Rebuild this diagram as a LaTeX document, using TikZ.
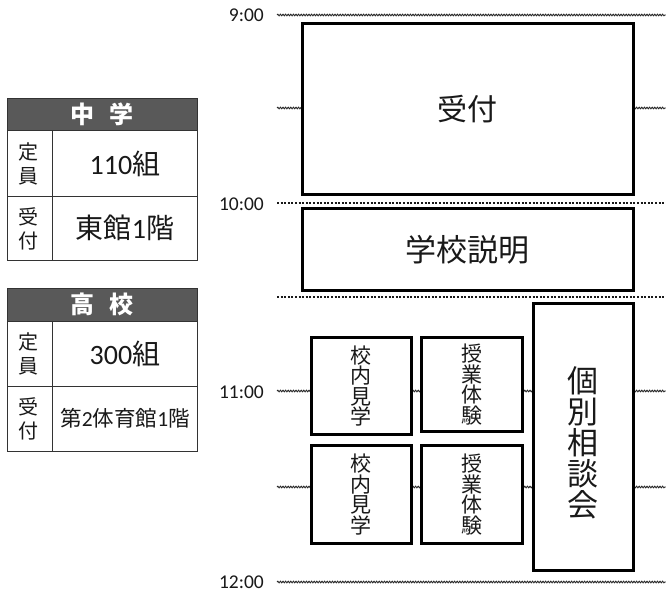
\documentclass[tikz,border=0pt]{standalone}
\usepackage{fontspec}
\setmainfont{Noto Sans CJK JP}
\newfontfamily\lat{Carlito}
\usetikzlibrary{decorations.pathmorphing}
\begin{document}
\begin{tikzpicture}[x=1pt,y=-1pt,
  wavy/.style={draw=black!85, line width=0.9pt, decorate, decoration={snake, amplitude=0.8pt, segment length=2.6pt}},
  dotline/.style={draw=black!90, line width=2.2pt, dash pattern=on 2pt off 1.6pt},
  slot/.style={draw=black, line width=2.6pt, fill=white, inner sep=0pt, anchor=north west, text=black!90, align=center},
  timelbl/.style={anchor=east, inner sep=0pt, text=black!90, font=\lat\fontsize{19.5}{19.5}\selectfont},
  tabline/.style={draw=black!80, line width=0.9pt},
  hdr/.style={text=white, font=\bfseries\fontsize{24}{24}\selectfont, inner sep=0pt},
  cell/.style={text=black!90, inner sep=0pt},
  stack/.style={text=black!90, inner sep=0pt, align=center, font=\fontsize{20}{24.5}\selectfont}
]
\useasboundingbox (0,0) rectangle (666,594);
\fill[white] (0,0) rectangle (666,594);

% timeline lines
\draw[wavy] (277,15) -- (666,15);
\draw[wavy] (277,108) -- (666,108);
\draw[dotline] (277,203) -- (666,203);
\draw[dotline] (277,297) -- (666,297);
\draw[wavy] (277,391) -- (666,391);
\draw[wavy] (277,487) -- (666,487);
\draw[wavy] (277,582) -- (666,582);

% time labels
\node[timelbl] (t9) at (264,15.5) {9:00};
\node[timelbl] (t10) at (264,204) {10:00};
\node[timelbl] (t11) at (264,392) {11:00};
\node[timelbl] (t12) at (264,582) {12:00};

% schedule boxes
\node[slot, minimum width=331pt, minimum height=171pt, font=\fontsize{30}{30}\selectfont] (uketsuke) at (301,22) {受付};
\node[slot, minimum width=331pt, minimum height=82pt, font=\fontsize{31}{31}\selectfont] (setsumei) at (301,207) {学校説明};
\node[slot, minimum width=100pt, minimum height=97pt, font=\fontsize{21}{20.5}\selectfont] (kengaku1) at (310,336) {校\\内\\見\\学};
\node[slot, minimum width=101pt, minimum height=94pt, font=\fontsize{21}{20.5}\selectfont] (taiken1) at (420,336) {授\\業\\体\\験};
\node[slot, minimum width=100pt, minimum height=98pt, font=\fontsize{21}{20.5}\selectfont] (kengaku2) at (310,444) {校\\内\\見\\学};
\node[slot, minimum width=101pt, minimum height=98pt, font=\fontsize{21}{20.5}\selectfont] (taiken2) at (420,444) {授\\業\\体\\験};
\node[slot, minimum width=100pt, minimum height=267pt] (soudan) at (532,302) {};
\node[text=black!90, align=center, inner sep=0pt, font=\fontsize{31}{31}\selectfont] (soudanlbl) at ([yshift=-6pt]soudan.center) {個\\別\\相\\談\\会};

% table: junior high
\fill[black!65] (7,98) rectangle (197,130);
\draw[tabline] (7,98) rectangle (197,260);
\draw[tabline] (7,130) -- (197,130);
\draw[tabline] (7,196) -- (197,196);
\draw[tabline] (52,130) -- (52,260);
\node[hdr] (h1) at (102,114.5) {中\hspace{0.6em}学};
\node[stack] (c1a) at (28,164) {定\\員};
\node[cell, font=\fontsize{28}{28}\selectfont] (c1b) at (125,164) {{\lat 110}組};
\node[stack] (c1c) at (28,229) {受\\付};
\node[cell, font=\fontsize{28}{28}\selectfont] (c1d) at (125,228) {東館{\lat 1}階};

% table: high school
\fill[black!65] (7,288) rectangle (197,321);
\draw[tabline] (7,288) rectangle (197,451);
\draw[tabline] (7,321) -- (197,321);
\draw[tabline] (7,386) -- (197,386);
\draw[tabline] (52,321) -- (52,451);
\node[hdr] (h2) at (102,304.5) {高\hspace{0.6em}校};
\node[stack] (c2a) at (28,354) {定\\員};
\node[cell, font=\fontsize{28}{28}\selectfont] (c2b) at (125,354) {{\lat 300}組};
\node[stack] (c2c) at (28,419) {受\\付};
\node[cell, font=\fontsize{21.5}{21.5}\selectfont] (c2d) at (125,418) {第{\lat 2}体育館{\lat 1}階};
\end{tikzpicture}
\end{document}
